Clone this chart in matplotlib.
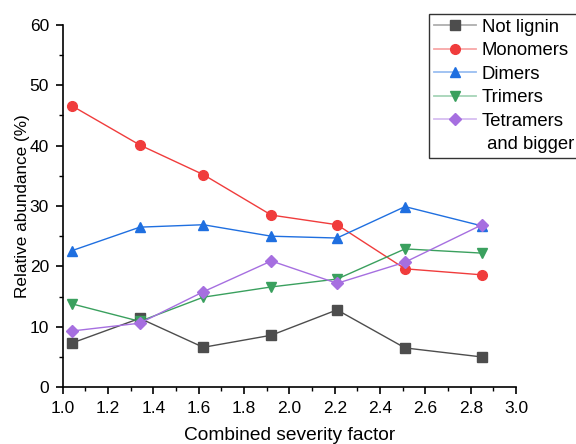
import numpy as np
import matplotlib
matplotlib.use("Agg")
import matplotlib.pyplot as plt
from matplotlib.ticker import MultipleLocator
from matplotlib.lines import Line2D
from matplotlib.colors import to_rgb

plt.rcParams['font.family'] = ['Liberation Sans', 'DejaVu Sans']

# data
severity = [1.04, 1.34, 1.62, 1.92, 2.21, 2.51, 2.85]
not_lignin = [7.3, 11.4, 6.6, 8.6, 12.8, 6.5, 5.0]
monomers = [46.6, 40.1, 35.2, 28.5, 26.9, 19.6, 18.6]
dimers = [22.6, 26.5, 26.9, 25.0, 24.7, 29.9, 26.7]
trimers = [13.8, 10.9, 14.9, 16.6, 17.9, 22.9, 22.2]
tetramers = [9.3, 10.6, 15.8, 20.9, 17.2, 20.7, 26.9]

series = [
    (not_lignin, 's', '#4d4d4d', 6.5, 'Not lignin'),
    (monomers, 'o', '#f03c3c', 7.0, 'Monomers'),
    (dimers, '^', '#1f6fe0', 7.5, 'Dimers'),
    (trimers, 'v', '#3aa05e', 7.5, 'Trimers'),
    (tetramers, 'D', '#a66fe0', 6.5, 'Tetramers'),
]

fig = plt.figure(figsize=(5.76, 4.44), dpi=100)
ax = fig.add_axes([0.109, 0.128, 0.787, 0.816])

handles, labels = [], []
for ys, mk, col, ms, lab in series:
    ax.plot(severity, ys, marker=mk, color=col, ms=ms, lw=1.0)
    light = tuple(0.45 * c + 0.55 for c in to_rgb(col))
    handles.append(Line2D([], [], color=light, lw=1.3, marker=mk, ms=ms,
                          markerfacecolor=col, markeredgecolor=col))
    labels.append(lab)
handles.append(Line2D([], [], linestyle='none'))
labels.append(' and bigger')

ax.set_xlim(1.0, 3.0)
ax.set_ylim(0, 60)
ax.xaxis.set_major_locator(MultipleLocator(0.2))
ax.xaxis.set_minor_locator(MultipleLocator(0.1))
ax.yaxis.set_major_locator(MultipleLocator(10))
ax.yaxis.set_minor_locator(MultipleLocator(5))
ax.xaxis.set_major_formatter(matplotlib.ticker.FormatStrFormatter('%.1f'))

for side in ['top', 'right']:
    ax.spines[side].set_visible(False)
for side in ['bottom', 'left']:
    ax.spines[side].set_linewidth(1.2)
ax.tick_params(which='major', direction='out', length=5, width=1.2, labelsize=12.5, pad=5)
ax.tick_params(which='minor', direction='out', length=3, width=1.0)

ax.set_xlabel('Combined severity factor', fontsize=13.8, labelpad=8)
ax.set_ylabel('Relative abundance (%)', fontsize=12.3, labelpad=0)

leg = ax.legend(handles, labels, loc='upper left', bbox_to_anchor=(0.745, 0.968),
                bbox_transform=fig.transFigure,
                fontsize=13.3, frameon=True, fancybox=False, edgecolor='black',
                borderpad=0.25, labelspacing=0.35, handlelength=2.3, handletextpad=0.3,
                borderaxespad=0)
leg.get_frame().set_linewidth(1.0)

fig.savefig('out.png', dpi=100)
